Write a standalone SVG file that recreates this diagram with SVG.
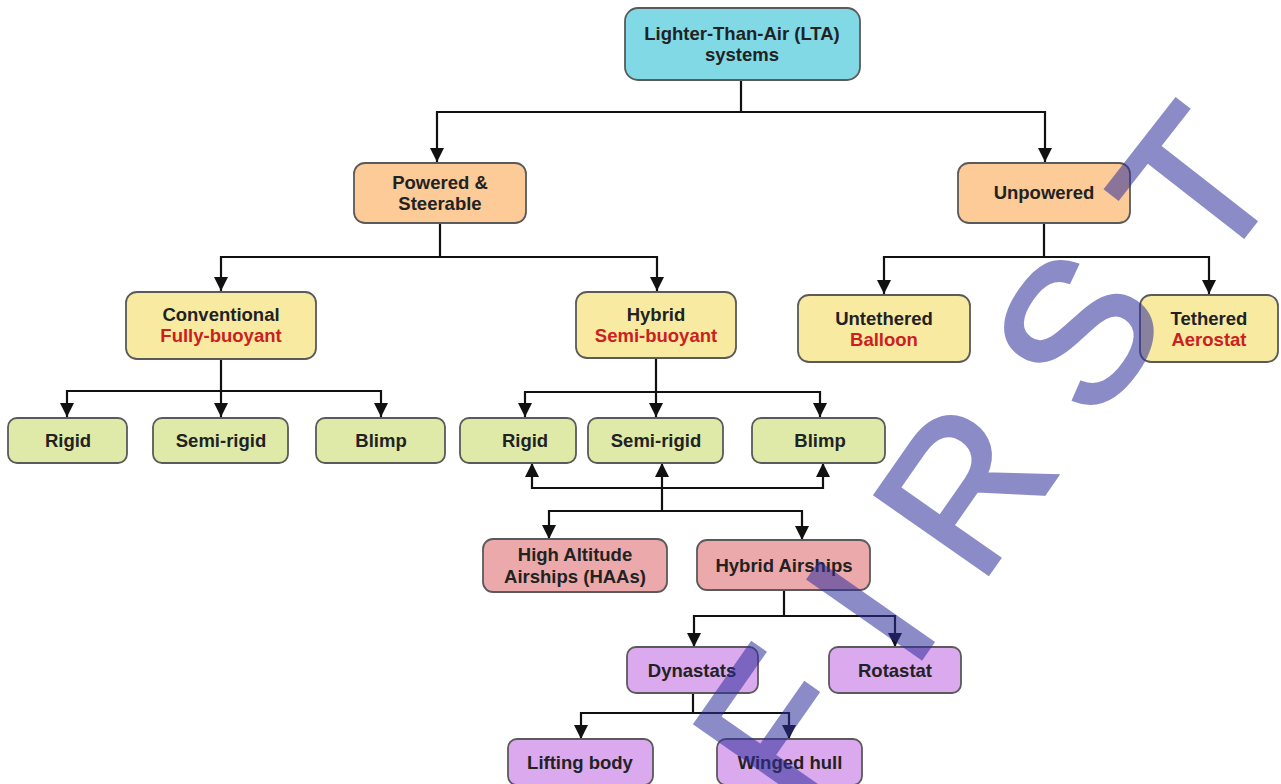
<svg xmlns="http://www.w3.org/2000/svg" width="1281" height="784" viewBox="0 0 1281 784">
<defs>
<style>
.box{stroke:#5a5a5a;stroke-width:1.8}
.cyan{fill:#80d9e5}
.peach{fill:#fccb97}
.yellow{fill:#f8eba1}
.green{fill:#dfeaa9}
.pink{fill:#eba9ab}
.lav{fill:#dba9ee}
text{font-family:"Liberation Sans",Arial,sans-serif;font-weight:bold;font-size:18.5px;fill:#222;text-anchor:middle}
text.red{fill:#cc2020}
.conn path{fill:none;stroke:#111;stroke-width:2.2}
.arr{marker-end:url(#ah)}
.wm{font-family:"Liberation Sans",Arial,sans-serif;font-weight:normal;font-size:200px;fill:#2e2e9c;stroke:#2e2e9c;stroke-width:4;opacity:0.55;text-anchor:start}
</style>
<marker id="ah" markerUnits="userSpaceOnUse" markerWidth="14" markerHeight="14" viewBox="0 0 14 14" refX="14" refY="7" orient="auto">
<path d="M0,0 L14,7 L0,14 z" fill="#111"/>
</marker>
</defs>
<rect width="1281" height="784" fill="#ffffff"/>

<g class="conn" id="connectors">
<path d="M741,80 V112 H437 V162" class="arr"/>
<path d="M741,112 H1045 V162" class="arr"/>
<path d="M440,224 V257 H221 V291" class="arr"/>
<path d="M440,257 H657 V291" class="arr"/>
<path d="M1044,223 V257 H884 V294" class="arr"/>
<path d="M1044,257 H1209 V294" class="arr"/>
<path d="M221,359 V391 H67 V417" class="arr"/>
<path d="M221,391 V417" class="arr"/>
<path d="M221,391 H381 V417" class="arr"/>
<path d="M656,358 V392 H525 V417" class="arr"/>
<path d="M656,392 V417" class="arr"/>
<path d="M656,392 H820 V417" class="arr"/>
<path d="M662,511 V463" class="arr"/>
<path d="M662,488 H532 V463" class="arr"/>
<path d="M662,488 H823 V463" class="arr"/>
<path d="M662,511 H549 V539" class="arr"/>
<path d="M662,511 H802 V540" class="arr"/>
<path d="M784,590 V616 H694 V647" class="arr"/>
<path d="M784,616 H895 V647" class="arr"/>
<path d="M693,693 V713 H581 V739" class="arr"/>
<path d="M693,713 H789 V739" class="arr"/>
</g>

<g id="n-root"><rect class="box cyan" x="625" y="8" width="235" height="72" rx="13"/><text x="742" y="40">Lighter-Than-Air (LTA)</text><text x="742" y="61">systems</text></g>
<g id="n-powered"><rect class="box peach" x="354" y="163" width="172" height="60" rx="11"/><text x="440" y="189">Powered &amp;</text><text x="440" y="210">Steerable</text></g>
<g id="n-unpowered"><rect class="box peach" x="958" y="163" width="172" height="60" rx="11"/><text x="1044" y="199">Unpowered</text></g>
<g id="n-conventional"><rect class="box yellow" x="126" y="292" width="190" height="67" rx="11"/><text x="221" y="321">Conventional</text><text class="red" x="221" y="342">Fully-buoyant</text></g>
<g id="n-hybrid"><rect class="box yellow" x="576" y="292" width="160" height="66" rx="11"/><text x="656" y="321">Hybrid</text><text class="red" x="656" y="342">Semi-buoyant</text></g>
<g id="n-untethered"><rect class="box yellow" x="798" y="295" width="172" height="67" rx="11"/><text x="884" y="325">Untethered</text><text class="red" x="884" y="346">Balloon</text></g>
<g id="n-tethered"><rect class="box yellow" x="1140" y="295" width="138" height="67" rx="11"/><text x="1209" y="325">Tethered</text><text class="red" x="1209" y="346">Aerostat</text></g>
<g id="n-rigid1"><rect class="box green" x="8" y="418" width="119" height="45" rx="9"/><text x="68" y="447">Rigid</text></g>
<g id="n-semirigid1"><rect class="box green" x="153" y="418" width="135" height="45" rx="9"/><text x="221" y="447">Semi-rigid</text></g>
<g id="n-blimp1"><rect class="box green" x="316" y="418" width="129" height="45" rx="9"/><text x="381" y="447">Blimp</text></g>
<g id="n-rigid2"><rect class="box green" x="460" y="418" width="116" height="45" rx="9"/><text x="525" y="447">Rigid</text></g>
<g id="n-semirigid2"><rect class="box green" x="588" y="418" width="135" height="45" rx="9"/><text x="656" y="447">Semi-rigid</text></g>
<g id="n-blimp2"><rect class="box green" x="752" y="418" width="133" height="45" rx="9"/><text x="820" y="447">Blimp</text></g>
<g id="n-haa"><rect class="box pink" x="483" y="539" width="184" height="53" rx="10"/><text x="575" y="561">High Altitude</text><text x="575" y="583">Airships (HAAs)</text></g>
<g id="n-hybridairships"><rect class="box pink" x="697" y="540" width="173" height="50" rx="10"/><text x="784" y="572">Hybrid Airships</text></g>
<g id="n-dynastats"><rect class="box lav" x="627" y="647" width="131" height="46" rx="9"/><text x="692" y="677">Dynastats</text></g>
<g id="n-rotastat"><rect class="box lav" x="829" y="647" width="132" height="46" rx="9"/><text x="895" y="677">Rotastat</text></g>
<g id="n-liftingbody"><rect class="box lav" x="508" y="739" width="145" height="46" rx="9"/><text x="580" y="769">Lifting body</text></g>
<g id="n-wingedhull"><rect class="box lav" x="717" y="739" width="145" height="46" rx="9"/><text x="790" y="769">Winged hull</text></g>

<g id="watermark">
<text class="wm" transform="translate(799,816) rotate(-55)">F</text>
<text class="wm" transform="translate(911,673) rotate(-55)">I</text>
<text class="wm" transform="translate(979,587) rotate(-55)">R</text>
<text class="wm" transform="translate(1096,426) rotate(-55)">S</text>
<text class="wm" transform="translate(1212,277) rotate(-52)">T</text>
</g>
</svg>
